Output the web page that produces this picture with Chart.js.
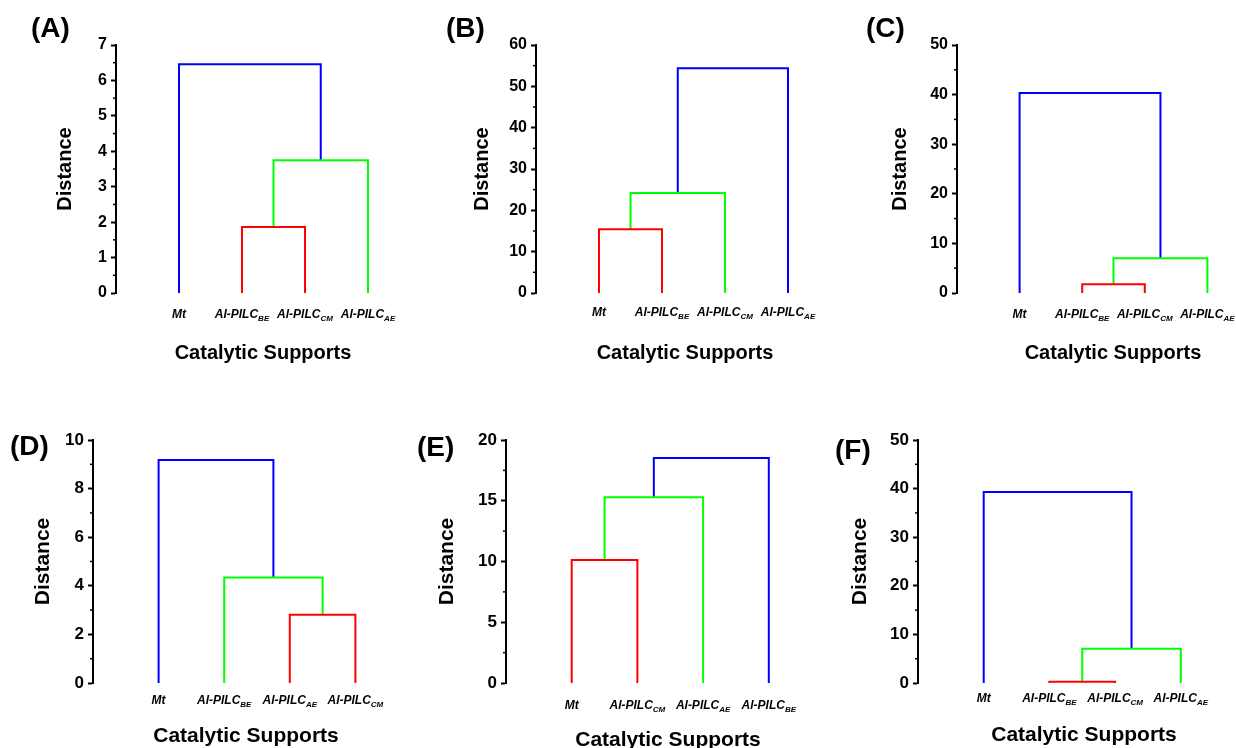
<!DOCTYPE html>
<html>
<head>
<meta charset="utf-8">
<script src="https://cdn.jsdelivr.net/npm/chart.js@4/dist/chart.umd.min.js"></script>
<style>
  html, body { margin: 0; padding: 0; background: #fff; }
  #wrap { position: relative; width: 1236px; height: 748px; overflow: hidden; }
  canvas { position: absolute; }
</style>
</head>
<body>
<div id="wrap"></div>
<script>
// --- datos de los dendrogramas (hojas, uniones, alturas) ---
const leavesA = ['Mt', 'Al-PILC_BE', 'Al-PILC_CM', 'Al-PILC_AE'];
const mergesA = [[1, 2], [4, 3], [0, 5]];
const heightsA = [1.86, 3.75, 6.46];

const leavesB = ['Mt', 'Al-PILC_BE', 'Al-PILC_CM', 'Al-PILC_AE'];
const mergesB = [[0, 1], [4, 2], [5, 3]];
const heightsB = [15.4, 24.2, 54.4];

const leavesC = ['Mt', 'Al-PILC_BE', 'Al-PILC_CM', 'Al-PILC_AE'];
const mergesC = [[1, 2], [4, 3], [0, 5]];
const heightsC = [1.75, 7.0, 40.3];

const leavesD = ['Mt', 'Al-PILC_BE', 'Al-PILC_AE', 'Al-PILC_CM'];
const mergesD = [[2, 3], [1, 4], [0, 5]];
const heightsD = [2.81, 4.34, 9.18];

const leavesE = ['Mt', 'Al-PILC_CM', 'Al-PILC_AE', 'Al-PILC_BE'];
const mergesE = [[0, 1], [4, 2], [5, 3]];
const heightsE = [10.13, 15.29, 18.52];

const leavesF = ['Mt', 'Al-PILC_BE', 'Al-PILC_CM', 'Al-PILC_AE'];
const mergesF = [[1, 2], [4, 3], [0, 5]];
const heightsF = [0.25, 7.05, 39.3];

// eje Y: máximo, paso mayor
const yMaxes = [7, 60, 50, 10, 20, 50];
const ySteps = [1, 10, 10, 2, 5, 10];

const mergeColors = ['#FF0000', '#00FF00', '#0000FF'];
const FONT = "'Liberation Sans', Arial, sans-serif";
const X_MAX = 4.4;

// Layout de cada panel (coordenadas de página)
const panels = [
    { letter: '(A)', leaves: leavesA, merges: mergesA, heights: heightsA,
      box: { left: 0, top: 0, w: 410, h: 380 }, area: { left: 116, top: 45, bottom: 293 }, unit: 63,
      letterPos: [31, 29], xTitlePos: [263, 353], yTitleX: 65, labelGap: 21, tickSize: 16, titleSize: 20 },
    { letter: '(B)', leaves: leavesB, merges: mergesB, heights: heightsB,
      box: { left: 410, top: 0, w: 420, h: 380 }, area: { left: 536, top: 45, bottom: 293 }, unit: 63,
      letterPos: [446, 29], xTitlePos: [685, 353], yTitleX: 482, labelGap: 19, tickSize: 16, titleSize: 20 },
    { letter: '(C)', leaves: leavesC, merges: mergesC, heights: heightsC,
      box: { left: 830, top: 0, w: 406, h: 380 }, area: { left: 957, top: 45, bottom: 293 }, unit: 62.6,
      letterPos: [866, 29], xTitlePos: [1113, 353], yTitleX: 900, labelGap: 21, tickSize: 16, titleSize: 20 },
    { letter: '(D)', leaves: leavesD, merges: mergesD, heights: heightsD,
      box: { left: 0, top: 400, w: 410, h: 348 }, area: { left: 93, top: 440, bottom: 683 }, unit: 65.6,
      letterPos: [10, 447], xTitlePos: [246, 736], yTitleX: 43, labelGap: 17, tickSize: 17, titleSize: 21 },
    { letter: '(E)', leaves: leavesE, merges: mergesE, heights: heightsE,
      box: { left: 410, top: 400, w: 410, h: 348 }, area: { left: 506, top: 440, bottom: 683 }, unit: 65.7,
      letterPos: [417, 448], xTitlePos: [668, 740], yTitleX: 447, labelGap: 22, tickSize: 17, titleSize: 21 },
    { letter: '(F)', leaves: leavesF, merges: mergesF, heights: heightsF,
      box: { left: 820, top: 400, w: 416, h: 348 }, area: { left: 918, top: 440, bottom: 683 }, unit: 65.7,
      letterPos: [835, 451], xTitlePos: [1084, 735], yTitleX: 860, labelGap: 15, tickSize: 17, titleSize: 21 }
];

// Construye los segmentos en U del dendrograma
function buildLinks(leaves, merges, heights) {
    const nodes = leaves.map((_, i) => ({ x: i + 1, y: 0 }));
    return merges.map(([a, b], k) => {
        const A = nodes[a], B = nodes[b], h = heights[k];
        nodes.push({ x: (A.x + B.x) / 2, y: h });
        return [{ x: A.x, y: A.y }, { x: A.x, y: h }, { x: B.x, y: h }, { x: B.x, y: B.y }];
    });
}

// Plugin: letra del panel, etiquetas con subíndice, título X, ticks menores
const dendroPlugin = {
    id: 'dendro',
    afterDraw(chart, args, opts) {
        const ctx = chart.ctx;
        const xs = chart.scales.x, ys = chart.scales.y;
        ctx.save();
        ctx.fillStyle = '#000';
        ctx.strokeStyle = '#000';

        // ticks menores
        ctx.lineWidth = 1.5;
        const minor = opts.step / 2;
        for (let v = minor; v < ys.max; v += opts.step) {
            const py = ys.getPixelForValue(v);
            ctx.beginPath();
            ctx.moveTo(ys.right - 3, py);
            ctx.lineTo(ys.right, py);
            ctx.stroke();
        }

        // letra del panel
        ctx.font = 'bold 28px ' + FONT;
        ctx.textAlign = 'left';
        ctx.textBaseline = 'middle';
        ctx.fillText(opts.letter, opts.letterPos[0], opts.letterPos[1]);

        // etiquetas de hojas
        const base = ys.getPixelForValue(0) + opts.labelGap + 4;
        ctx.textBaseline = 'alphabetic';
        opts.leaves.forEach((lab, i) => {
            const [main, sub] = lab.split('_');
            ctx.font = 'italic bold 12px ' + FONT;
            const w1 = ctx.measureText(main).width;
            ctx.font = 'italic bold 8px ' + FONT;
            const w2 = sub ? ctx.measureText(sub).width : 0;
            let x0 = xs.getPixelForValue(i + 1) - (w1 + w2) / 2;
            ctx.font = 'italic bold 12px ' + FONT;
            ctx.fillText(main, x0, base);
            if (sub) {
                ctx.font = 'italic bold 8px ' + FONT;
                ctx.fillText(sub, x0 + w1, base + 3);
            }
        });

        // título X
        ctx.font = 'bold ' + opts.titleSize + 'px ' + FONT;
        ctx.textAlign = 'center';
        ctx.textBaseline = 'middle';
        ctx.fillText('Catalytic Supports', opts.xTitlePos[0], opts.xTitlePos[1]);
        ctx.restore();
    }
};

const wrap = document.getElementById('wrap');

panels.forEach((p, idx) => {
    const canvas = document.createElement('canvas');
    canvas.width = p.box.w;
    canvas.height = p.box.h;
    canvas.style.left = p.box.left + 'px';
    canvas.style.top = p.box.top + 'px';
    wrap.appendChild(canvas);

    const links = buildLinks(p.leaves, p.merges, p.heights);
    const yWidth = p.area.left - p.box.left;
    const right = p.area.left + p.unit * X_MAX;
    const titleLH = p.titleSize * 1.2;

    new Chart(canvas.getContext('2d'), {
        type: 'line',
        data: {
            datasets: links.map((pts, k) => ({
                data: pts,
                borderColor: mergeColors[k],
                borderWidth: 2,
                pointRadius: 0,
                fill: false,
                tension: 0,
                clip: false
            }))
        },
        options: {
            responsive: false,
            animation: false,
            events: [],
            layout: {
                padding: {
                    left: 0,
                    top: p.area.top - p.box.top,
                    bottom: p.box.top + p.box.h - p.area.bottom,
                    right: p.box.left + p.box.w - right
                }
            },
            plugins: {
                legend: { display: false },
                tooltip: { enabled: false },
                dendro: {
                    letter: p.letter,
                    letterPos: [p.letterPos[0] - p.box.left, p.letterPos[1] - p.box.top],
                    xTitlePos: [p.xTitlePos[0] - p.box.left, p.xTitlePos[1] - p.box.top],
                    leaves: p.leaves,
                    labelGap: p.labelGap,
                    titleSize: p.titleSize,
                    step: ySteps[idx]
                }
            },
            scales: {
                x: {
                    type: 'linear',
                    display: false,
                    min: 0,
                    max: X_MAX
                },
                y: {
                    min: 0,
                    max: yMaxes[idx],
                    afterFit(scale) { scale.width = yWidth; },
                    border: { display: true, color: '#000', width: 2 },
                    grid: {
                        display: true,
                        drawOnChartArea: false,
                        drawTicks: true,
                        tickLength: 5,
                        tickWidth: 2,
                        tickColor: '#000'
                    },
                    ticks: {
                        stepSize: ySteps[idx],
                        color: '#000',
                        padding: 4,
                        font: { family: FONT, size: p.tickSize, weight: 'bold' }
                    },
                    title: {
                        display: true,
                        text: 'Distance',
                        color: '#000',
                        font: { family: FONT, size: p.titleSize, weight: 'bold' },
                        padding: { top: p.yTitleX - p.box.left - titleLH / 2, bottom: 0 }
                    }
                }
            }
        },
        plugins: [dendroPlugin]
    });
});
</script>
</body>
</html>
